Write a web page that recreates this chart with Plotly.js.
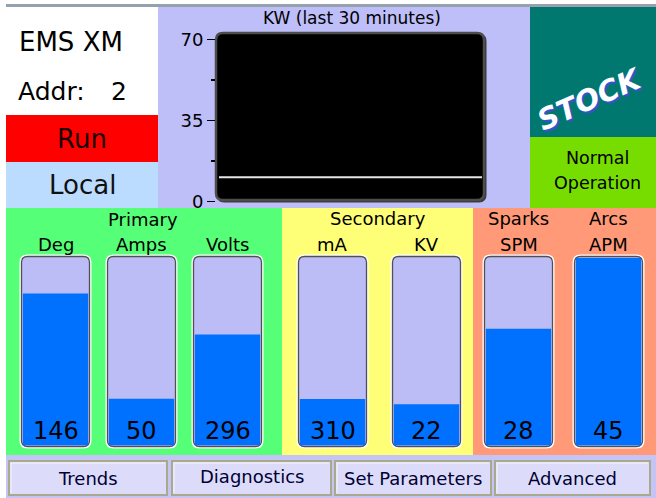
<!DOCTYPE html>
<html>
<head>
<meta charset="utf-8">
<script src="https://cdn.plot.ly/plotly-3.0.1.min.js"></script>
<style>
html,body{margin:0;padding:0;background:#ffffff;}
#chart{width:656px;height:498px;}
</style>
</head>
<body>
<div id="chart"></div>
<script>
// ---------- data ----------
const gaugeLabels = ['Deg', 'Amps', 'Volts', 'mA', 'KV', 'SPM', 'APM'];
const gaugeValues = [146, 50, 296, 310, 22, 28, 45];
const gaugeMax    = [180, 200, 500, 1250, 100, 45, 45];
const groupLabels = ['Primary', 'Secondary', 'Sparks', 'Arcs'];
const kwMinutes = [-30, -25, -20, -15, -10, -5, 0];
const kwValues  = [10.5, 10.5, 10.5, 10.5, 10.5, 10.5, 10.5];
const kwTickVals = [0, 35, 70];
const kwTickText = ['0', '35', '70'];
const buttonLabels = ['Trends', 'Diagnostics', 'Set Parameters', 'Advanced'];
const statusTexts = ['EMS XM', 'Addr:', '2', 'Run', 'Local', 'Normal', 'Operation'];

// ---------- layout helpers (pixel -> paper) ----------
const W = 656, H = 498;
const FONT = 'DejaVu Sans';
const px = x => x / W;
const py = y => 1 - y / H;

function rect(x0, y0, x1, y1, fill, layer) {
  return {type: 'rect', xref: 'paper', yref: 'paper',
    x0: px(x0), x1: px(x1), y0: py(y1), y1: py(y0),
    fillcolor: fill, line: {width: 0}, layer: layer || 'below'};
}
function rrPath(x0, y0, x1, y1, r) {
  const P = (x, y) => px(x).toFixed(5) + ',' + py(y).toFixed(5);
  return 'M' + P(x0 + r, y0) + ' L' + P(x1 - r, y0) + ' Q' + P(x1, y0) + ' ' + P(x1, y0 + r) +
    ' L' + P(x1, y1 - r) + ' Q' + P(x1, y1) + ' ' + P(x1 - r, y1) +
    ' L' + P(x0 + r, y1) + ' Q' + P(x0, y1) + ' ' + P(x0, y1 - r) +
    ' L' + P(x0, y0 + r) + ' Q' + P(x0, y0) + ' ' + P(x0 + r, y0) + ' Z';
}
function rr(x0, y0, x1, y1, r, fill, lineColor, lineWidth, layer) {
  return {type: 'path', xref: 'paper', yref: 'paper', path: rrPath(x0, y0, x1, y1, r),
    fillcolor: fill, line: {color: lineColor, width: lineWidth}, layer: layer || 'below'};
}
function txt(text, x, y, size, opts) {
  opts = opts || {};
  return {text: text, x: px(x), y: py(y), xref: 'paper', yref: 'paper', showarrow: false,
    xanchor: opts.xanchor || 'center', yanchor: 'middle', textangle: opts.angle || 0,
    font: {family: opts.family || FONT, size: size, color: opts.color || '#000000',
      weight: opts.weight || 'normal', style: opts.style || 'normal'}};
}

// gauge geometry (pixels)
const gaugeLeft = [20, 106, 192, 297, 391, 483, 573];
const gaugeW = 71, gaugeTop = 255, gaugeBot = 448;
const gaugeCenters = gaugeLeft.map(l => l + gaugeW / 2);
const groupPos = [[143, 220], [378, 218], [gaugeCenters[5], 218], [gaugeCenters[6], 218]];
const buttonX = [[9, 167], [172, 331], [335, 491], [495, 650]];

// ---------- shapes ----------
const shapes = [
  rect(6, 4, 656, 7, '#95a1ad'),
  rect(6, 7, 158, 115, '#ffffff'),
  rect(6, 115, 158, 162, '#ff0000'),
  rect(6, 162, 158, 208, '#bbdcff'),
  rect(158, 7, 530, 208, '#bebef8'),
  rect(530, 7, 656, 137, '#00776f'),
  rect(530, 137, 656, 208, '#77dd00'),
  rect(6, 208, 282, 455, '#55ff77'),
  rect(282, 208, 473, 455, '#ffff77'),
  rect(473, 208, 656, 455, '#ff9977'),
  rect(6, 455, 656, 498, '#c4c4f6'),
  // KW chart frame
  rr(217, 34, 486, 202, 7, '#3a3a3a', '#3a3a3a', 1),
  rr(216, 33, 484, 200, 7, '#000000', '#4d4d4d', 2.5)
];
gaugeLeft.forEach(l => {
  shapes.push(rr(l + 1.5, gaugeTop + 1.5, l + gaugeW - 1.5, gaugeBot - 1.5, 6, 'rgba(0,0,0,0)', '#ffffff', 4));
  shapes.push(rr(l + 1.5, gaugeTop + 1.5, l + gaugeW - 1.5, gaugeBot - 1.5, 6, '#bcbcf7', '#505050', 1.3));
});
buttonX.forEach(b => {
  shapes.push(rect(b[0], 461, b[1], 495, '#dcdcfa'));
  shapes.push({type: 'rect', xref: 'paper', yref: 'paper', x0: px(b[0]), x1: px(b[1]),
    y0: py(495), y1: py(461), fillcolor: 'rgba(0,0,0,0)',
    line: {color: '#a9a98e', width: 2}, layer: 'above'});
  shapes.push({type: 'path', xref: 'paper', yref: 'paper',
    path: 'M' + px(b[0] + 2) + ',' + py(493) + ' L' + px(b[0] + 2) + ',' + py(463) + ' L' + px(b[1] - 2) + ',' + py(463),
    line: {color: '#f4f4f4', width: 1}, layer: 'above'});
});

// ---------- traces & axes ----------
const traces = [];
const layout = {
  width: W, height: H, margin: {l: 0, r: 0, t: 0, b: 0},
  paper_bgcolor: '#ffffff', plot_bgcolor: 'rgba(0,0,0,0)',
  showlegend: false, barmode: 'overlay', shapes: shapes, annotations: [],
  hovermode: false
};
gaugeLabels.forEach((lab, i) => {
  const n = i + 1, sx = n === 1 ? '' : String(n);
  traces.push({type: 'bar', x: [lab], y: [gaugeValues[i]], width: 1,
    xaxis: 'x' + sx, yaxis: 'y' + sx,
    marker: {color: '#0070ff', line: {width: 0}}, hoverinfo: 'skip'});
  const l = gaugeLeft[i];
  layout['xaxis' + sx] = {domain: [px(l + 2.6), px(l + gaugeW - 2.6)], range: [-0.5, 0.5],
    visible: false, fixedrange: true, anchor: 'y' + sx, type: 'category'};
  layout['yaxis' + sx] = {domain: [py(445.5), py(258)], range: [0, gaugeMax[i]],
    visible: false, fixedrange: true, anchor: 'x' + sx};
  layout.annotations.push(txt(lab, gaugeCenters[i], 244, 18));
  layout.annotations.push(txt(String(gaugeValues[i]), gaugeCenters[i], 431, 24));
});

// KW trend
traces.push({type: 'scatter', mode: 'lines', x: kwMinutes, y: kwValues,
  xaxis: 'x8', yaxis: 'y8', line: {color: '#e6e6e6', width: 2}, hoverinfo: 'skip'});
layout.xaxis8 = {domain: [px(219), px(482)], range: [-30, 0], visible: false,
  fixedrange: true, anchor: 'y8'};
layout.yaxis8 = {domain: [py(201.5), py(39.5)], range: [0, 70], anchor: 'free',
  position: px(215), tickmode: 'array', tickvals: kwTickVals, ticktext: kwTickText,
  ticks: 'outside', ticklen: 8, tickwidth: 1.5, tickcolor: '#000000',
  minor: {dtick: 17.5, tick0: 0, ticks: 'outside', ticklen: 4, tickwidth: 1.5, tickcolor: '#000000'},
  showline: false, showgrid: false, zeroline: false, fixedrange: true,
  tickfont: {family: FONT, size: 18, color: '#000000'}};

// ---------- texts ----------
const A = layout.annotations;
A.push(txt('KW (last 30 minutes)', 352, 18, 17));
A.push(txt(statusTexts[0], 17, 42, 26, {xanchor: 'left'}));
A.push(txt(statusTexts[1], 16, 91, 25, {xanchor: 'left'}));
A.push(txt(statusTexts[2], 119, 91, 25));
A.push(txt(statusTexts[3], 82, 139, 26, {color: '#1a0000'}));
A.push(txt(statusTexts[4], 82, 185, 26, {color: '#111111'}));
A.push(txt(statusTexts[5], 597, 158, 17.5));
A.push(txt(statusTexts[6], 597, 183, 17.5));
groupLabels.forEach((g, i) => A.push(txt(g, groupPos[i][0], groupPos[i][1], 18)));
buttonLabels.forEach((b, i) => A.push(txt(b, (buttonX[i][0] + buttonX[i][1]) / 2, i === 1 ? 476 : 478, 18, {color: '#000033'})));
// logo
A.push(txt('STOCK', 592, 101, 29, {color: '#3355cc', weight: 'bold', style: 'italic', angle: -24}));
A.push(txt('STOCK', 590, 99, 29, {color: '#ffffff', weight: 'bold', style: 'italic', angle: -24}));

Plotly.newPlot('chart', traces, layout, {staticPlot: true, displayModeBar: false});
</script>
</body>
</html>
